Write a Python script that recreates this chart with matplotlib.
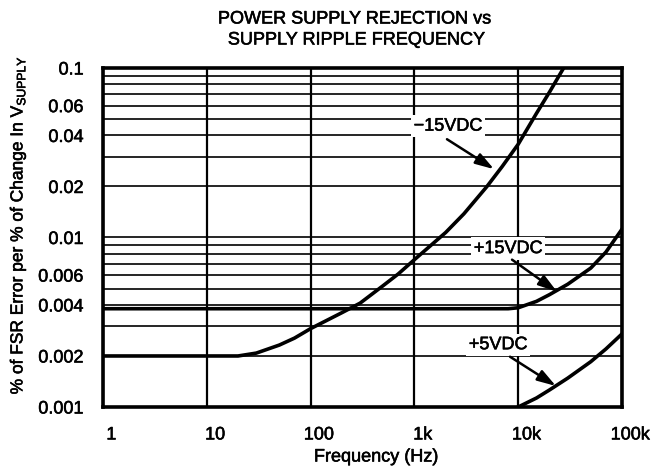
import matplotlib
matplotlib.use("Agg")
import matplotlib.pyplot as plt
import matplotlib.patheffects as pe
import matplotlib.transforms as mtransforms
from matplotlib.ticker import FixedLocator, FixedFormatter, NullLocator, NullFormatter

plt.rcParams["font.family"] = ["Liberation Sans", "DejaVu Sans"]
plt.rcParams["mathtext.fontset"] = "custom"
plt.rcParams["mathtext.rm"] = "Liberation Sans"

# -15VDC supply curve
neg15_freq = [1, 10, 20, 30, 50, 70, 100, 200, 300, 500, 700, 1000, 2000, 3000,
              5000, 7000, 10000, 15000, 20000, 30000]
neg15_val = [0.002, 0.002, 0.002, 0.00208, 0.00232, 0.00255, 0.0029, 0.0036,
             0.0041, 0.0052, 0.0061, 0.0074, 0.0107, 0.0138, 0.020, 0.0262,
             0.0355, 0.054, 0.072, 0.11]

# +15VDC supply curve
pos15_freq = [1, 10, 100, 1000, 8000, 10000, 15000, 20000, 30000, 50000, 70000, 100000]
pos15_val = [0.0038, 0.0038, 0.0038, 0.0038, 0.0038, 0.00385, 0.0042, 0.0046,
             0.0053, 0.0066, 0.0082, 0.0112]

# +5VDC supply curve
pos5_freq = [10000, 15000, 20000, 30000, 50000, 70000, 100000]
pos5_val = [0.001, 0.00113, 0.00126, 0.00148, 0.00185, 0.0022, 0.0027]

x_ticks = [1, 10, 100, 1e3, 1e4, 1e5]
x_labels = ["1", "10", "100", "1k", "10k", "100k"]
y_ticks = [0.001, 0.002, 0.004, 0.006, 0.01, 0.02, 0.04, 0.06, 0.1]
y_labels = ["0.001", "0.002", "0.004", "0.006", "0.01", "0.02", "0.04", "0.06", "0.1"]
y_grid = [m * d for d in (0.001, 0.01) for m in range(1, 10)]

fig = plt.figure(figsize=(6.58, 4.69), dpi=100)
W, H = 658, 469
ax = fig.add_axes([103 / W, 1 - 407 / H, (622 - 103) / W, (407 - 68) / H])

ax.set_xscale("log")
ax.set_yscale("log")
ax.set_xlim(1, 1e5)
ax.set_ylim(0.001, 0.1)

# grid: horizontal at every 1..9 step, vertical at decades
ax.xaxis.set_major_locator(FixedLocator(x_ticks))
ax.xaxis.set_major_formatter(FixedFormatter(x_labels))
ax.xaxis.set_minor_locator(NullLocator())
ax.yaxis.set_major_locator(FixedLocator(y_ticks))
ax.yaxis.set_major_formatter(FixedFormatter(y_labels))
ax.yaxis.set_minor_locator(FixedLocator(y_grid))
ax.yaxis.set_minor_formatter(NullFormatter())
ax.tick_params(which="both", length=0, labelsize=13)
ax.tick_params(axis="x", pad=14)
ax.tick_params(axis="y", pad=14)
ax.grid(axis="x", which="major", color="k", lw=1.6)
ax.grid(axis="y", which="both", color="k", lw=1.2)
for sp in ax.spines.values():
    sp.set_linewidth(2.6)

# shift x tick labels slightly right like the original
for lbl in ax.get_xticklabels():
    lbl.set_transform(lbl.get_transform() + mtransforms.ScaledTranslation(6 / 72, 0, fig.dpi_scale_trans))

ax.plot(neg15_freq, neg15_val, color="k", lw=2.6)
ax.plot(pos15_freq, pos15_val, color="k", lw=2.6)
ax.plot(pos5_freq, pos5_val, color="k", lw=2.6)

box = dict(facecolor="white", edgecolor="none", pad=2)
arrow = dict(arrowstyle="-|>,head_length=0.8,head_width=0.25", color="k", lw=1.8,
             mutation_scale=14, shrinkA=0, shrinkB=0)
ax.text(2100, 0.0454, "\u221215VDC", fontsize=13, ha="center", va="center", bbox=box, zorder=5)
ax.annotate("", xy=(5850, 0.0253), xytext=(2060, 0.038), arrowprops=arrow, zorder=6)
ax.text(7980, 0.0086, "+15VDC", fontsize=13, ha="center", va="center", bbox=box, zorder=5)
ax.annotate("", xy=(23650, 0.00479), xytext=(8720, 0.0074), arrowprops=arrow, zorder=6)
ax.text(6390, 0.00233, "+5VDC", fontsize=13, ha="center", va="center", bbox=box, zorder=5)
ax.annotate("", xy=(23100, 0.00133), xytext=(8340, 0.00198), arrowprops=arrow, zorder=6)

fig.text(354 / W, 1 - 19 / H, "POWER SUPPLY REJECTION vs", fontsize=13, ha="center", va="center")
fig.text(356 / W, 1 - 40 / H, "SUPPLY RIPPLE FREQUENCY", fontsize=13, ha="center", va="center")
fig.text(376 / W, 1 - 457 / H, "Frequency (Hz)", fontsize=13, ha="center", va="center")
fig.text(18 / W, 1 - 225 / H, r"% of FSR Error per % of Change In V$_{\mathrm{SUPPLY}}$",
         fontsize=12.5, ha="center", va="center", rotation=90)

# the scanned original has slightly heavier type
heavy = [pe.withStroke(linewidth=0.4, foreground="k")]
for t in fig.texts + ax.texts + ax.get_xticklabels() + ax.get_yticklabels():
    t.set_path_effects(heavy)

fig.savefig("out.png", dpi=100)
